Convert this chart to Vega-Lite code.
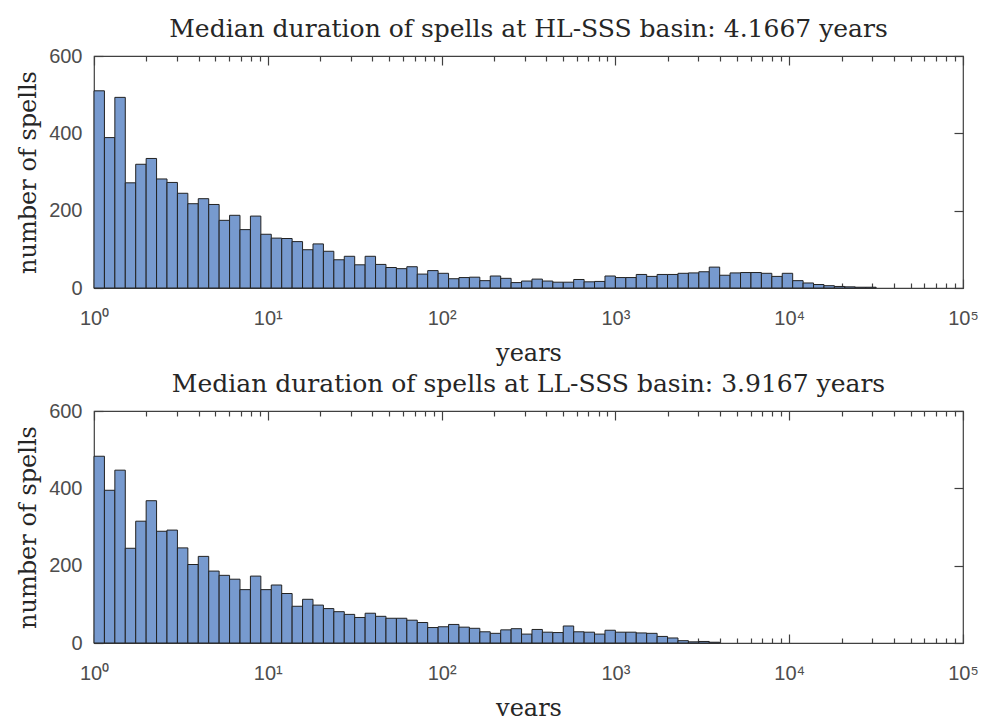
{
  "$schema": "https://vega.github.io/schema/vega-lite/v6.json",
  "padding": {"left": 16, "top": 16, "right": 10, "bottom": 0},
  "background": "white",
  "config": {
    "view": {"stroke": "#404040", "strokeWidth": 1.2},
    "axis": {
      "domain": false,
      "grid": false,
      "tickColor": "#404040",
      "tickWidth": 1.2,
      "labelFont": "Liberation Sans",
      "labelFontSize": 20,
      "labelColor": "#4d4d4d",
      "titleFont": "DejaVu Serif",
      "titleFontSize": 24,
      "titleFontWeight": "normal",
      "titleColor": "#262626",
      "zindex": 1
    },
    "title": {"font": "DejaVu Serif", "fontSize": 25, "fontWeight": "normal", "color": "#262626", "offset": 0, "anchor": "middle"}
  },
  "data": {
    "values": [
      {"p": "HL", "x0": 1, "x1": 1.1482, "n": 510},
      {"p": "HL", "x0": 1.1482, "x1": 1.3183, "n": 389},
      {"p": "HL", "x0": 1.3183, "x1": 1.5136, "n": 493},
      {"p": "HL", "x0": 1.5136, "x1": 1.7378, "n": 272},
      {"p": "HL", "x0": 1.7378, "x1": 1.9953, "n": 320},
      {"p": "HL", "x0": 1.9953, "x1": 2.2909, "n": 335},
      {"p": "HL", "x0": 2.2909, "x1": 2.6303, "n": 282},
      {"p": "HL", "x0": 2.6303, "x1": 3.02, "n": 273},
      {"p": "HL", "x0": 3.02, "x1": 3.4674, "n": 245},
      {"p": "HL", "x0": 3.4674, "x1": 3.9811, "n": 218},
      {"p": "HL", "x0": 3.9811, "x1": 4.5709, "n": 231},
      {"p": "HL", "x0": 4.5709, "x1": 5.2481, "n": 216},
      {"p": "HL", "x0": 5.2481, "x1": 6.0256, "n": 175},
      {"p": "HL", "x0": 6.0256, "x1": 6.9183, "n": 188},
      {"p": "HL", "x0": 6.9183, "x1": 7.9433, "n": 151},
      {"p": "HL", "x0": 7.9433, "x1": 9.1201, "n": 186},
      {"p": "HL", "x0": 9.1201, "x1": 10.471, "n": 139},
      {"p": "HL", "x0": 10.471, "x1": 12.023, "n": 129},
      {"p": "HL", "x0": 12.023, "x1": 13.804, "n": 128},
      {"p": "HL", "x0": 13.804, "x1": 15.849, "n": 120},
      {"p": "HL", "x0": 15.849, "x1": 18.197, "n": 99},
      {"p": "HL", "x0": 18.197, "x1": 20.893, "n": 114},
      {"p": "HL", "x0": 20.893, "x1": 23.988, "n": 95},
      {"p": "HL", "x0": 23.988, "x1": 27.542, "n": 73},
      {"p": "HL", "x0": 27.542, "x1": 31.623, "n": 82},
      {"p": "HL", "x0": 31.623, "x1": 36.308, "n": 60},
      {"p": "HL", "x0": 36.308, "x1": 41.687, "n": 82},
      {"p": "HL", "x0": 41.687, "x1": 47.863, "n": 61},
      {"p": "HL", "x0": 47.863, "x1": 54.954, "n": 53},
      {"p": "HL", "x0": 54.954, "x1": 63.096, "n": 50},
      {"p": "HL", "x0": 63.096, "x1": 72.444, "n": 55},
      {"p": "HL", "x0": 72.444, "x1": 83.176, "n": 36},
      {"p": "HL", "x0": 83.176, "x1": 95.499, "n": 45},
      {"p": "HL", "x0": 95.499, "x1": 109.65, "n": 38},
      {"p": "HL", "x0": 109.65, "x1": 125.89, "n": 24},
      {"p": "HL", "x0": 125.89, "x1": 144.54, "n": 27},
      {"p": "HL", "x0": 144.54, "x1": 165.96, "n": 28},
      {"p": "HL", "x0": 165.96, "x1": 190.55, "n": 19},
      {"p": "HL", "x0": 190.55, "x1": 218.78, "n": 31},
      {"p": "HL", "x0": 218.78, "x1": 251.19, "n": 25},
      {"p": "HL", "x0": 251.19, "x1": 288.4, "n": 14},
      {"p": "HL", "x0": 288.4, "x1": 331.13, "n": 18},
      {"p": "HL", "x0": 331.13, "x1": 380.19, "n": 23},
      {"p": "HL", "x0": 380.19, "x1": 436.52, "n": 18},
      {"p": "HL", "x0": 436.52, "x1": 501.19, "n": 15},
      {"p": "HL", "x0": 501.19, "x1": 575.44, "n": 15},
      {"p": "HL", "x0": 575.44, "x1": 660.69, "n": 22},
      {"p": "HL", "x0": 660.69, "x1": 758.58, "n": 16},
      {"p": "HL", "x0": 758.58, "x1": 870.96, "n": 17},
      {"p": "HL", "x0": 870.96, "x1": 1000, "n": 31},
      {"p": "HL", "x0": 1000, "x1": 1148.2, "n": 27},
      {"p": "HL", "x0": 1148.2, "x1": 1318.3, "n": 27},
      {"p": "HL", "x0": 1318.3, "x1": 1513.6, "n": 35},
      {"p": "HL", "x0": 1513.6, "x1": 1737.8, "n": 30},
      {"p": "HL", "x0": 1737.8, "x1": 1995.3, "n": 35},
      {"p": "HL", "x0": 1995.3, "x1": 2290.9, "n": 35},
      {"p": "HL", "x0": 2290.9, "x1": 2630.3, "n": 38},
      {"p": "HL", "x0": 2630.3, "x1": 3020, "n": 39},
      {"p": "HL", "x0": 3020, "x1": 3467.4, "n": 42},
      {"p": "HL", "x0": 3467.4, "x1": 3981.1, "n": 54},
      {"p": "HL", "x0": 3981.1, "x1": 4570.9, "n": 33},
      {"p": "HL", "x0": 4570.9, "x1": 5248.1, "n": 39},
      {"p": "HL", "x0": 5248.1, "x1": 6025.6, "n": 40},
      {"p": "HL", "x0": 6025.6, "x1": 6918.3, "n": 40},
      {"p": "HL", "x0": 6918.3, "x1": 7943.3, "n": 38},
      {"p": "HL", "x0": 7943.3, "x1": 9120.1, "n": 30},
      {"p": "HL", "x0": 9120.1, "x1": 10471, "n": 38},
      {"p": "HL", "x0": 10471, "x1": 12023, "n": 19},
      {"p": "HL", "x0": 12023, "x1": 13804, "n": 13},
      {"p": "HL", "x0": 13804, "x1": 15849, "n": 9},
      {"p": "HL", "x0": 15849, "x1": 18197, "n": 6},
      {"p": "HL", "x0": 18197, "x1": 20893, "n": 4},
      {"p": "HL", "x0": 20893, "x1": 23988, "n": 3},
      {"p": "HL", "x0": 23988, "x1": 27542, "n": 2},
      {"p": "HL", "x0": 27542, "x1": 31623, "n": 2},
      {"p": "LL", "x0": 1, "x1": 1.1482, "n": 483},
      {"p": "LL", "x0": 1.1482, "x1": 1.3183, "n": 395},
      {"p": "LL", "x0": 1.3183, "x1": 1.5136, "n": 447},
      {"p": "LL", "x0": 1.5136, "x1": 1.7378, "n": 245},
      {"p": "LL", "x0": 1.7378, "x1": 1.9953, "n": 315},
      {"p": "LL", "x0": 1.9953, "x1": 2.2909, "n": 368},
      {"p": "LL", "x0": 2.2909, "x1": 2.6303, "n": 289},
      {"p": "LL", "x0": 2.6303, "x1": 3.02, "n": 292},
      {"p": "LL", "x0": 3.02, "x1": 3.4674, "n": 246},
      {"p": "LL", "x0": 3.4674, "x1": 3.9811, "n": 203},
      {"p": "LL", "x0": 3.9811, "x1": 4.5709, "n": 224},
      {"p": "LL", "x0": 4.5709, "x1": 5.2481, "n": 186},
      {"p": "LL", "x0": 5.2481, "x1": 6.0256, "n": 175},
      {"p": "LL", "x0": 6.0256, "x1": 6.9183, "n": 165},
      {"p": "LL", "x0": 6.9183, "x1": 7.9433, "n": 138},
      {"p": "LL", "x0": 7.9433, "x1": 9.1201, "n": 173},
      {"p": "LL", "x0": 9.1201, "x1": 10.471, "n": 138},
      {"p": "LL", "x0": 10.471, "x1": 12.023, "n": 150},
      {"p": "LL", "x0": 12.023, "x1": 13.804, "n": 128},
      {"p": "LL", "x0": 13.804, "x1": 15.849, "n": 95},
      {"p": "LL", "x0": 15.849, "x1": 18.197, "n": 113},
      {"p": "LL", "x0": 18.197, "x1": 20.893, "n": 98},
      {"p": "LL", "x0": 20.893, "x1": 23.988, "n": 89},
      {"p": "LL", "x0": 23.988, "x1": 27.542, "n": 81},
      {"p": "LL", "x0": 27.542, "x1": 31.623, "n": 74},
      {"p": "LL", "x0": 31.623, "x1": 36.308, "n": 66},
      {"p": "LL", "x0": 36.308, "x1": 41.687, "n": 77},
      {"p": "LL", "x0": 41.687, "x1": 47.863, "n": 69},
      {"p": "LL", "x0": 47.863, "x1": 54.954, "n": 64},
      {"p": "LL", "x0": 54.954, "x1": 63.096, "n": 64},
      {"p": "LL", "x0": 63.096, "x1": 72.444, "n": 59},
      {"p": "LL", "x0": 72.444, "x1": 83.176, "n": 53},
      {"p": "LL", "x0": 83.176, "x1": 95.499, "n": 40},
      {"p": "LL", "x0": 95.499, "x1": 109.65, "n": 42},
      {"p": "LL", "x0": 109.65, "x1": 125.89, "n": 48},
      {"p": "LL", "x0": 125.89, "x1": 144.54, "n": 41},
      {"p": "LL", "x0": 144.54, "x1": 165.96, "n": 38},
      {"p": "LL", "x0": 165.96, "x1": 190.55, "n": 29},
      {"p": "LL", "x0": 190.55, "x1": 218.78, "n": 25},
      {"p": "LL", "x0": 218.78, "x1": 251.19, "n": 34},
      {"p": "LL", "x0": 251.19, "x1": 288.4, "n": 37},
      {"p": "LL", "x0": 288.4, "x1": 331.13, "n": 23},
      {"p": "LL", "x0": 331.13, "x1": 380.19, "n": 35},
      {"p": "LL", "x0": 380.19, "x1": 436.52, "n": 28},
      {"p": "LL", "x0": 436.52, "x1": 501.19, "n": 27},
      {"p": "LL", "x0": 501.19, "x1": 575.44, "n": 44},
      {"p": "LL", "x0": 575.44, "x1": 660.69, "n": 29},
      {"p": "LL", "x0": 660.69, "x1": 758.58, "n": 28},
      {"p": "LL", "x0": 758.58, "x1": 870.96, "n": 23},
      {"p": "LL", "x0": 870.96, "x1": 1000, "n": 33},
      {"p": "LL", "x0": 1000, "x1": 1148.2, "n": 28},
      {"p": "LL", "x0": 1148.2, "x1": 1318.3, "n": 28},
      {"p": "LL", "x0": 1318.3, "x1": 1513.6, "n": 26},
      {"p": "LL", "x0": 1513.6, "x1": 1737.8, "n": 25},
      {"p": "LL", "x0": 1737.8, "x1": 1995.3, "n": 17},
      {"p": "LL", "x0": 1995.3, "x1": 2290.9, "n": 13},
      {"p": "LL", "x0": 2290.9, "x1": 2630.3, "n": 6},
      {"p": "LL", "x0": 2630.3, "x1": 3020, "n": 3},
      {"p": "LL", "x0": 3020, "x1": 3467.4, "n": 4},
      {"p": "LL", "x0": 3467.4, "x1": 3981.1, "n": 2}
    ]
  },
  "vconcat": [
    {
      "width": 869,
      "height": 232,
      "title": "Median duration of spells at HL-SSS basin: 4.1667 years",
      "transform": [{"filter": "datum.p == 'HL'"}],
      "layer": [
        {
          "mark": {"type": "rect", "fill": "#779ACF", "stroke": "#222222", "strokeWidth": 1},
          "encoding": {
            "x": {"field": "x0", "type": "quantitative", "scale": {"type": "log", "domain": [1, 100000]},
              "axis": {"orient": "bottom", "title": "years", "titlePadding": 9, "labelPadding": 29, "labelFlush": false, "labelOverlap": false,
                "values": [1,2,3,4,5,6,7,8,9,10,20,30,40,50,60,70,80,90,100,200,300,400,500,600,700,800,900,1000,2000,3000,4000,5000,6000,7000,8000,9000,10000,20000,30000,40000,50000,60000,70000,80000,90000,100000],
                "labelExpr": "datum.value==1?'10⁰':datum.value==10?'10¹':datum.value==100?'10²':datum.value==1000?'10³':datum.value==10000?'10⁴':datum.value==100000?'10⁵':''",
                "tickSize": {"condition": {"test": "datum.value==1||datum.value==10||datum.value==100||datum.value==1000||datum.value==10000||datum.value==100000", "value": -9}, "value": -5}}},
            "x2": {"field": "x1"},
            "y": {"field": "n", "type": "quantitative", "scale": {"domain": [0, 600]},
              "axis": {"orient": "left", "title": "number of spells", "values": [0, 200, 400, 600], "tickSize": -9, "labelPadding": 21, "titlePadding": 8}}
          }
        },
        {
          "mark": {"type": "rect", "opacity": 0},
          "encoding": {
            "x": {"field": "x0", "type": "quantitative", "scale": {"type": "log", "domain": [1, 100000]},
              "axis": {"orient": "top", "title": null, "labels": false,
                "values": [1,2,3,4,5,6,7,8,9,10,20,30,40,50,60,70,80,90,100,200,300,400,500,600,700,800,900,1000,2000,3000,4000,5000,6000,7000,8000,9000,10000,20000,30000,40000,50000,60000,70000,80000,90000,100000],
                "tickSize": {"condition": {"test": "datum.value==1||datum.value==10||datum.value==100||datum.value==1000||datum.value==10000||datum.value==100000", "value": -9}, "value": -5}}},
            "x2": {"field": "x1"},
            "y": {"field": "n", "type": "quantitative", "scale": {"domain": [0, 600]},
              "axis": {"orient": "right", "title": null, "labels": false, "values": [0, 200, 400, 600], "tickSize": -9}}
          }
        }
      ],
      "resolve": {"axis": {"x": "independent", "y": "independent"}}
    },
    {
      "width": 869,
      "height": 232,
      "title": "Median duration of spells at LL-SSS basin: 3.9167 years",
      "transform": [{"filter": "datum.p == 'LL'"}],
      "layer": [
        {
          "mark": {"type": "rect", "fill": "#779ACF", "stroke": "#222222", "strokeWidth": 1},
          "encoding": {
            "x": {"field": "x0", "type": "quantitative", "scale": {"type": "log", "domain": [1, 100000]},
              "axis": {"orient": "bottom", "title": "years", "titlePadding": 9, "labelPadding": 29, "labelFlush": false, "labelOverlap": false,
                "values": [1,2,3,4,5,6,7,8,9,10,20,30,40,50,60,70,80,90,100,200,300,400,500,600,700,800,900,1000,2000,3000,4000,5000,6000,7000,8000,9000,10000,20000,30000,40000,50000,60000,70000,80000,90000,100000],
                "labelExpr": "datum.value==1?'10⁰':datum.value==10?'10¹':datum.value==100?'10²':datum.value==1000?'10³':datum.value==10000?'10⁴':datum.value==100000?'10⁵':''",
                "tickSize": {"condition": {"test": "datum.value==1||datum.value==10||datum.value==100||datum.value==1000||datum.value==10000||datum.value==100000", "value": -9}, "value": -5}}},
            "x2": {"field": "x1"},
            "y": {"field": "n", "type": "quantitative", "scale": {"domain": [0, 600]},
              "axis": {"orient": "left", "title": "number of spells", "values": [0, 200, 400, 600], "tickSize": -9, "labelPadding": 21, "titlePadding": 8}}
          }
        },
        {
          "mark": {"type": "rect", "opacity": 0},
          "encoding": {
            "x": {"field": "x0", "type": "quantitative", "scale": {"type": "log", "domain": [1, 100000]},
              "axis": {"orient": "top", "title": null, "labels": false,
                "values": [1,2,3,4,5,6,7,8,9,10,20,30,40,50,60,70,80,90,100,200,300,400,500,600,700,800,900,1000,2000,3000,4000,5000,6000,7000,8000,9000,10000,20000,30000,40000,50000,60000,70000,80000,90000,100000],
                "tickSize": {"condition": {"test": "datum.value==1||datum.value==10||datum.value==100||datum.value==1000||datum.value==10000||datum.value==100000", "value": -9}, "value": -5}}},
            "x2": {"field": "x1"},
            "y": {"field": "n", "type": "quantitative", "scale": {"domain": [0, 600]},
              "axis": {"orient": "right", "title": null, "labels": false, "values": [0, 200, 400, 600], "tickSize": -9}}
          }
        }
      ],
      "resolve": {"axis": {"x": "independent", "y": "independent"}}
    }
  ],
  "spacing": 5
}
